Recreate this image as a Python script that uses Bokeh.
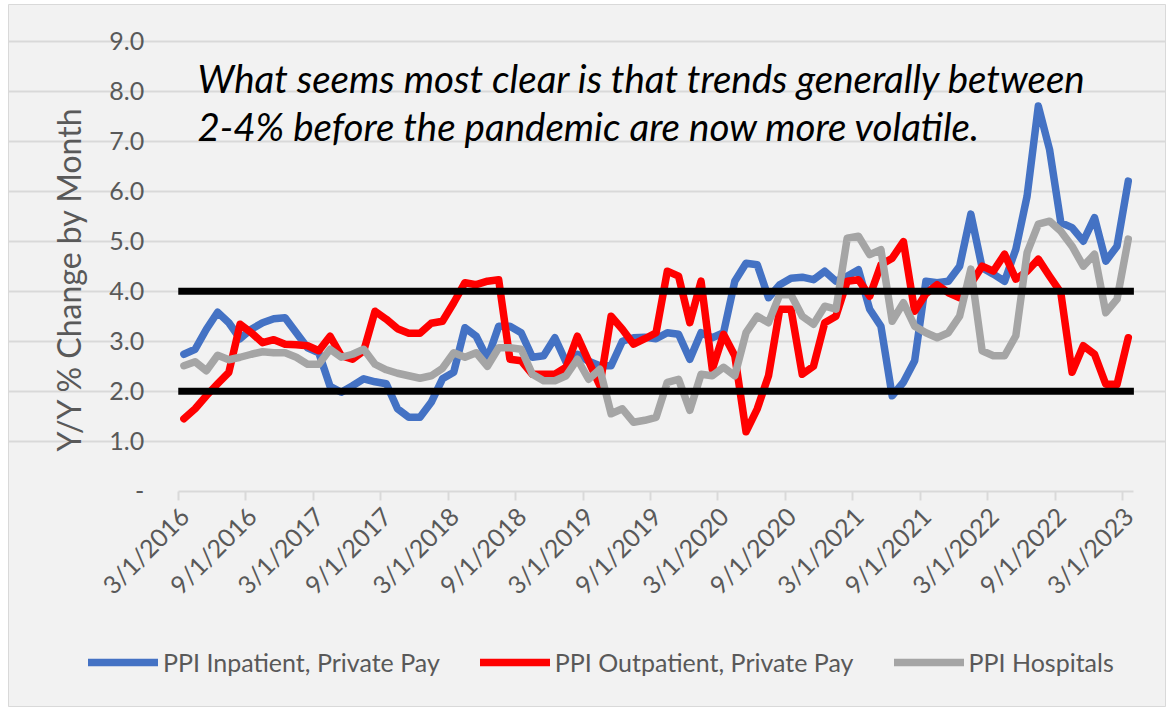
import math
from bokeh.plotting import figure
from bokeh.models import Range1d, FixedTicker, Label, Legend, LegendItem
from bokeh.embed import file_html
from bokeh.resources import INLINE

# ---- data -------------------------------------------------------------
months = []
for k in range(85):
    m = 3 + k
    months.append(f"{(m - 1) % 12 + 1}/1/{2016 + (m - 1) // 12}")

inpatient_private = [
    2.74, 2.84, 3.24, 3.58, 3.37, 3.05, 3.24, 3.37, 3.45, 3.47,
    3.17, 2.87, 2.77, 2.10, 1.98, 2.11, 2.25, 2.19, 2.15, 1.65,
    1.48, 1.48, 1.78, 2.25, 2.38, 3.27, 3.10, 2.65, 3.30, 3.30,
    3.17, 2.68, 2.71, 3.07, 2.58, 2.74, 2.60, 2.51, 2.51, 3.00,
    3.07, 3.08, 3.05, 3.17, 3.14, 2.64, 3.17, 3.07, 3.17, 4.20,
    4.56, 4.53, 3.87, 4.13, 4.26, 4.28, 4.23, 4.40, 4.20, 4.30,
    4.43, 3.64, 3.30, 1.91, 2.18, 2.61, 4.20, 4.17, 4.20, 4.50,
    5.54, 4.47, 4.34, 4.20, 4.84, 5.90, 7.70, 6.83, 5.37, 5.27,
    5.00, 5.47, 4.60, 4.90, 6.20,
]
outpatient_private = [
    1.45, 1.65, 1.91, 2.15, 2.38, 3.34, 3.17, 2.97, 3.03, 2.94,
    2.93, 2.91, 2.81, 3.10, 2.71, 2.64, 2.81, 3.60, 3.44, 3.25,
    3.16, 3.16, 3.36, 3.40, 3.77, 4.17, 4.13, 4.20, 4.23, 2.64,
    2.61, 2.34, 2.34, 2.34, 2.48, 3.10, 2.60, 2.11, 3.50, 3.24,
    2.94, 3.05, 3.17, 4.40, 4.30, 3.37, 4.20, 2.44, 3.14, 2.71,
    1.19, 1.65, 2.31, 3.64, 3.64, 2.34, 2.50, 3.37, 3.50, 4.20,
    4.23, 3.90, 4.53, 4.66, 4.99, 3.60, 3.95, 4.13, 3.97, 3.87,
    4.15, 4.50, 4.40, 4.74, 4.24, 4.40, 4.64, 4.30, 3.97, 2.38,
    2.91, 2.74, 2.14, 2.14, 3.07,
]
hospitals = [
    2.51, 2.59, 2.41, 2.72, 2.63, 2.68, 2.74, 2.79, 2.77, 2.77,
    2.68, 2.54, 2.54, 2.84, 2.68, 2.74, 2.84, 2.54, 2.43, 2.36,
    2.31, 2.26, 2.31, 2.46, 2.77, 2.68, 2.77, 2.50, 2.87, 2.87,
    2.84, 2.34, 2.21, 2.21, 2.31, 2.64, 2.24, 2.44, 1.55, 1.65,
    1.38, 1.42, 1.48, 2.18, 2.24, 1.62, 2.34, 2.31, 2.48, 2.31,
    3.17, 3.50, 3.37, 3.93, 3.93, 3.50, 3.34, 3.70, 3.64, 5.06,
    5.10, 4.73, 4.83, 3.40, 3.77, 3.30, 3.17, 3.07, 3.17, 3.50,
    4.44, 2.81, 2.71, 2.71, 3.11, 4.77, 5.34, 5.40, 5.20, 4.90,
    4.50, 4.74, 3.57, 3.84, 5.04,
]
series_names = ["PPI Inpatient, Private Pay", "PPI Outpatient, Private Pay", "PPI Hospitals"]
band_levels = [2.0, 4.0]
y_ticks = [0, 1, 2, 3, 4, 5, 6, 7, 8, 9]
y_tick_labels = ["-", "1.0", "2.0", "3.0", "4.0", "5.0", "6.0", "7.0", "8.0", "9.0"]
label_every = 6
note_lines = [
    "What seems most clear is that trends generally between",
    "2-4% before the pandemic are now more volatile.",
]

# ---- styling / layout constants ----------------------------------------
GRAY_TXT = "#595959"
GRID = "#D9D9D9"
BG = "#F2F2F2"
FONT = "Lato"
# room (in axis units) around the plotting area, used for axes, notes and legend
PAD_LEFT, PAD_RIGHT = 15.1, 2.9
PAD_TOP, PAD_BOTTOM = 0.73, 4.32
NOTE_X, NOTE_Y = [1.2, 1.2], [8.27, 7.31]

x = list(range(len(months)))
x_first, x_last = -0.5, len(months) - 0.5
y_lo, y_hi = y_ticks[0], y_ticks[-1]

p = figure(width=1158, height=703, margin=(4, 0, 0, 8),
           x_range=Range1d(x_first - PAD_LEFT, x_last + PAD_RIGHT),
           y_range=Range1d(y_lo - PAD_BOTTOM, y_hi + PAD_TOP),
           output_backend="svg", toolbar_location=None,
           background_fill_color=BG, border_fill_color=BG, min_border=0)
p.outline_line_color = GRID
p.outline_line_width = 1

# grid
p.xgrid.visible = False
p.ygrid.ticker = FixedTicker(ticks=y_ticks[1:])
p.ygrid.bounds = (x_first, x_last)
p.ygrid.grid_line_color = GRID
p.ygrid.grid_line_width = 2

# y axis
p.yaxis.fixed_location = x_first
p.yaxis.bounds = (y_lo - 0.5, y_hi)
p.yaxis.ticker = FixedTicker(ticks=y_ticks)
p.yaxis.major_label_overrides = {t: lab for t, lab in zip(y_ticks, y_tick_labels)}
p.yaxis.axis_line_color = None
p.yaxis.major_tick_line_color = None
p.yaxis.minor_tick_line_color = None
p.yaxis.major_tick_out = 0
p.yaxis.major_tick_in = 0
p.yaxis.major_label_standoff = 34
p.yaxis.major_label_text_font = FONT
p.yaxis.major_label_text_font_size = "25px"
p.yaxis.major_label_text_color = GRAY_TXT
p.yaxis.axis_label = "Y/Y % Change by Month"
p.yaxis.axis_label_text_font = FONT
p.yaxis.axis_label_text_font_style = "normal"
p.yaxis.axis_label_text_font_size = "32px"
p.yaxis.axis_label_text_color = GRAY_TXT
p.yaxis.axis_label_standoff = 19

# x axis
major = list(range(0, len(months), label_every))
p.xaxis.fixed_location = y_lo
p.xaxis.bounds = (x_first, x_last)
p.xaxis.ticker = FixedTicker(ticks=major, minor_ticks=[t - 0.5 for t in major])
p.xaxis.major_label_overrides = {t: months[t] for t in major}
p.xaxis.major_label_orientation = math.pi / 4
p.xaxis.axis_line_color = GRID
p.xaxis.axis_line_width = 2
p.xaxis.major_tick_line_color = None
p.xaxis.major_tick_out = 0
p.xaxis.major_tick_in = 0
p.xaxis.minor_tick_line_color = GRID
p.xaxis.minor_tick_line_width = 2
p.xaxis.minor_tick_out = 9
p.xaxis.minor_tick_in = 0
p.xaxis.major_label_standoff = 11
p.xaxis.major_label_text_font = FONT
p.xaxis.major_label_text_font_size = "25px"
p.xaxis.major_label_text_color = GRAY_TXT

# series
style = dict(line_width=7.5, line_join="round", line_cap="round")
r_in = p.line(x, inpatient_private, line_color="#4472C4", **style)
r_out = p.line(x, outpatient_private, line_color="#FF0000", **style)
r_hosp = p.line(x, hospitals, line_color="#A5A5A5", **style)

# 2% / 4% reference lines across the whole period
for lvl in band_levels:
    p.line([x_first, x_last], [lvl, lvl], line_color="black", line_width=7, line_cap="butt")

# annotation
for txt, xv, yv in zip(note_lines, NOTE_X, NOTE_Y):
    p.add_layout(Label(x=xv, y=yv, text=txt, text_font=FONT, text_font_style="italic",
                       text_font_size="38.5px", text_color="black", text_baseline="alphabetic"))

legend = Legend(items=[LegendItem(label=series_names[0], renderers=[r_in]),
                       LegendItem(label=series_names[1], renderers=[r_out]),
                       LegendItem(label=series_names[2], renderers=[r_hosp])],
                orientation="horizontal", location=(80, 30),
                glyph_width=70, glyph_height=24, label_standoff=5, spacing=40,
                padding=0, margin=0, border_line_color=None, background_fill_alpha=0,
                label_text_font=FONT, label_text_font_size="25px",
                label_text_color=GRAY_TXT, label_height=24)
p.add_layout(legend)

open("out.html", "w").write(file_html(p, INLINE, "chart"))
